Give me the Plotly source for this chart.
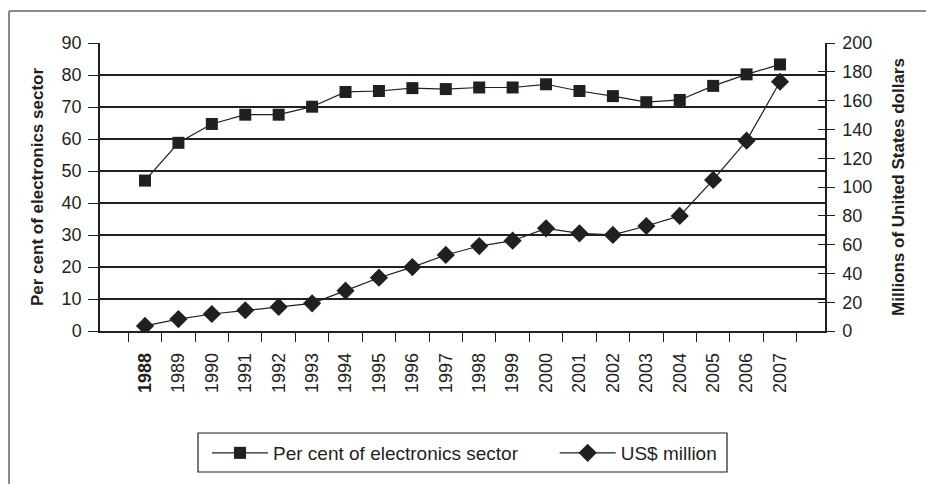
import plotly.graph_objects as go

years = [str(y) for y in range(1988, 2008)]
year_labels = ["<b>1988</b>"] + years[1:]
pct_electronics = [47.0, 58.8, 64.7, 67.6, 67.6, 70.1, 74.7, 75.0, 75.9, 75.6,
                   76.1, 76.1, 77.1, 75.0, 73.4, 71.5, 72.2, 76.6, 80.2, 83.3]
usd_million = [3.5, 8.3, 11.8, 14.4, 16.7, 19.2, 28.0, 37.0, 44.4, 52.8,
               59.0, 62.7, 71.3, 67.8, 66.7, 72.9, 79.9, 104.9, 132.2, 173.1]
left_ticks = list(range(0, 100, 10))
right_ticks = list(range(0, 220, 20))

FONT = "Liberation Sans, Arial, sans-serif"
INK = "#231f20"
NB = "\u00a0"

# plot area in pixels (for paper-coordinate helpers)
L, R, T, B = 100, 825, 43, 331
def px(x):
    return (x - L) / (R - L)
def py(y):
    return (B - y) / (B - T)

fig = go.Figure()
fig.add_trace(go.Scatter(
    x=years, y=pct_electronics, name="Per cent of electronics sector" + NB * 6,
    mode="lines+markers", line=dict(color=INK, width=1.2),
    marker=dict(symbol="square", size=12, color=INK), yaxis="y"))
fig.add_trace(go.Scatter(
    x=years, y=usd_million, name="US$ million",
    mode="lines+markers", line=dict(color=INK, width=1.2),
    marker=dict(symbol="diamond", size=14, color=INK), yaxis="y2"))
# helper trace to activate yaxis3 (inside half of the crossing ticks on the right axis)
fig.add_trace(go.Scatter(x=[years[0]], y=[None], yaxis="y3", showlegend=False,
                         hoverinfo="skip", mode="markers"))

fig.update_layout(
    width=926, height=484,
    margin=dict(l=L, r=926 - R, t=T, b=484 - B),
    paper_bgcolor="white", plot_bgcolor="white",
    font=dict(family=FONT, size=18, color=INK),
    xaxis=dict(type="category", tickmode="array", tickvals=years, ticktext=year_labels,
               tickangle=-90, ticks="outside", ticklen=9, tickcolor=INK,
               tickson="boundaries", showline=True, linecolor=INK, linewidth=1.5,
               showgrid=False, zeroline=False, tickfont=dict(size=18),
               ticklabelstandoff=13),
    yaxis=dict(range=[0, 90], tickvals=left_ticks, ticks="outside", ticklen=10,
               tickcolor=INK, showline=True, linecolor=INK, linewidth=1.5,
               showgrid=True, gridcolor=INK, gridwidth=1.5, zeroline=False,
               tickfont=dict(size=18), ticklabelstandoff=3,
               title=dict(text="<b>Per cent of electronics sector</b>", font=dict(size=17), standoff=14)),
    yaxis2=dict(range=[0, 200], tickvals=right_ticks, overlaying="y", side="right",
                ticks="outside", ticklen=8, tickcolor=INK, showline=True, linecolor=INK,
                linewidth=1.5, showgrid=False, zeroline=False,
                tickfont=dict(size=18), ticklabelstandoff=4,
                title=dict(text="<b>Millions of United States dollars</b>", font=dict(size=17), standoff=21)),
    yaxis3=dict(range=[0, 200], tickvals=right_ticks, overlaying="y", side="right",
                anchor="x", ticks="inside", ticklen=7, tickcolor=INK, showticklabels=False,
                showline=False, showgrid=False, zeroline=False),
    legend=dict(orientation="h", x=px(207), xanchor="left", y=py(434), yanchor="top",
                borderwidth=0, bgcolor="rgba(0,0,0,0)", font=dict(size=19), itemwidth=56,
                tracegroupgap=0),
    showlegend=True,
)

# legend frame
fig.add_shape(type="rect", xref="paper", yref="paper", x0=px(198), x1=px(727),
              y0=py(433), y1=py(472), line=dict(color=INK, width=1.2))
# outer chart frame (only top and left edges visible in the crop)
fig.add_shape(type="line", xref="paper", yref="paper", x0=px(9), x1=px(935),
              y0=py(11), y1=py(11), line=dict(color="#666", width=1.5))
fig.add_shape(type="line", xref="paper", yref="paper", x0=px(9), x1=px(9),
              y0=py(11), y1=py(495), line=dict(color="#666", width=1.5))

fig.write_html("out.html")
